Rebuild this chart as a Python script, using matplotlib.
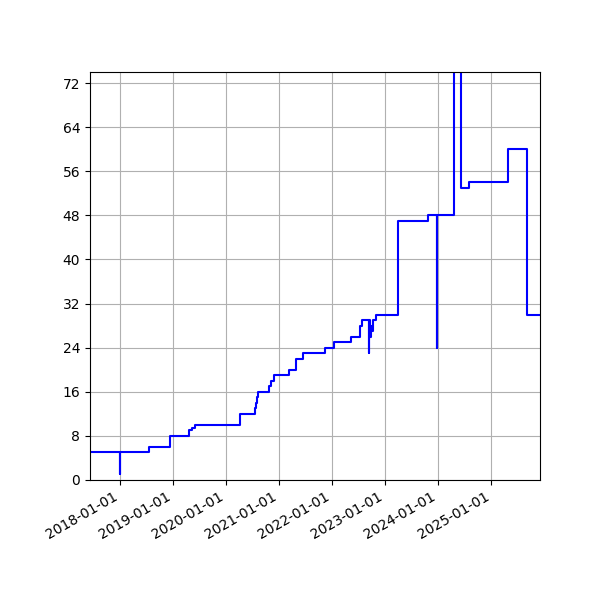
import numpy as np
import pandas as pd
import matplotlib
matplotlib.use("Agg")
import matplotlib.pyplot as plt
import matplotlib.dates as mdates
from matplotlib.ticker import MultipleLocator

dates = ["2017-06-01", "2017-12-31", "2018-01-02", "2018-07-20", "2018-12-15",
         "2019-04-20", "2019-05-10", "2019-06-05", "2020-04-10", "2020-07-20",
         "2020-07-28", "2020-08-05", "2020-08-12", "2020-10-25", "2020-11-05",
         "2020-11-25", "2021-03-10", "2021-04-25", "2021-06-15", "2021-11-15",
         "2022-01-15", "2022-05-10", "2022-07-15", "2022-07-22", "2022-09-10",
         "2022-09-14", "2022-09-20", "2022-09-25", "2022-10-01", "2022-10-10",
         "2022-10-28", "2023-04-01", "2023-10-25", "2023-12-20", "2023-12-25",
         "2024-04-20", "2024-06-05", "2024-07-28", "2025-04-25", "2025-09-05",
         "2025-12-01"]
values = [5, 1, 5, 6, 8,
          9, 9.5, 10, 12, 13,
          14, 15, 16, 17, 18,
          19, 20, 22, 23, 24,
          25, 26, 28, 29, 23,
          29, 26, 28, 27, 29,
          30, 47, 48, 24, 48,
          80, 53, 54, 60, 30,
          30]

x = pd.to_datetime(dates)

fig, ax = plt.subplots(figsize=(6, 6), dpi=100)
ax.plot(x, values, color="blue", drawstyle="steps-post")
ax.set_xlim(pd.Timestamp("2017-06-10"), pd.Timestamp("2025-12-01"))
ax.set_ylim(0, 74)
ax.yaxis.set_major_locator(MultipleLocator(8))
ax.xaxis.set_major_locator(mdates.YearLocator())
ax.xaxis.set_major_formatter(mdates.DateFormatter("%Y-%m-%d"))
ax.grid(True)
fig.autofmt_xdate()
fig.subplots_adjust(left=0.15, right=0.9, top=0.88, bottom=0.2)
fig.savefig("out.png")
